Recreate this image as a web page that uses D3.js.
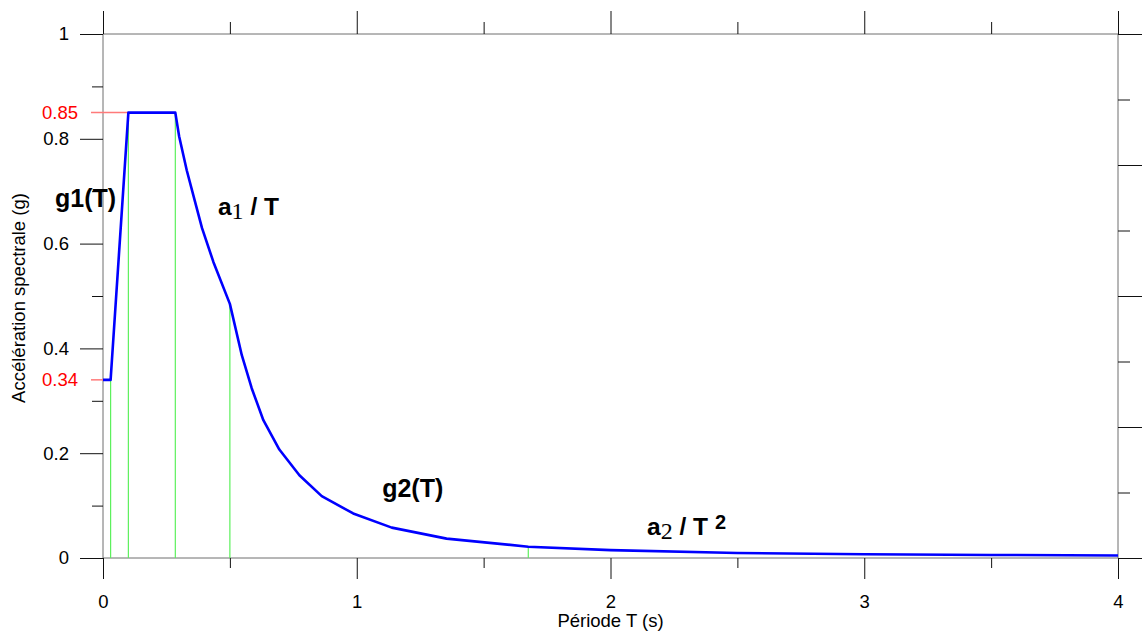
<!DOCTYPE html>
<html>
<head>
<meta charset="utf-8">
<script src="https://cdn.jsdelivr.net/npm/d3@7"></script>
<style>
  body { margin: 0; background: #fff; }
  svg { display: block; font-family: "Liberation Sans", Arial, sans-serif; }
</style>
</head>
<body>
<svg id="chart" width="1145" height="632"></svg>
<script>
// spectrum
var periods = [0, 0.03, 0.1, 0.285, 0.3, 0.33, 0.36, 0.39, 0.435, 0.5, 0.547, 0.586, 0.632, 0.695, 0.774, 0.862, 0.986, 1.138, 1.354, 1.676, 2.0, 2.5, 3.0, 3.5, 4.0];
var accel = [0.34, 0.34, 0.85, 0.85, 0.805, 0.74, 0.685, 0.63, 0.565, 0.485, 0.387, 0.324, 0.263, 0.207, 0.158, 0.118, 0.085, 0.058, 0.037, 0.0216, 0.015, 0.0095, 0.0072, 0.0058, 0.0048];

// green marker lines
var markerT = [0.03, 0.1, 0.285, 0.5, 1.676];
var markerV = [0.34, 0.85, 0.85, 0.485, 0.0216];

// red reference values on the y axis, with the period they run to
var refValues = [0.85, 0.34];
var refLabels = ["0.85", "0.34"];
var refUntil = [0.1, 0.03];

var xMajor = [0, 1, 2, 3, 4];
var xMinor = [0.5, 1.5, 2.5, 3.5];
var xLabels = ["0", "1", "2", "3", "4"];
var yMajor = [0, 0.2, 0.4, 0.6, 0.8, 1];
var yMinor = [0.1, 0.3, 0.5, 0.7, 0.9];
var yLabels = ["0", "0.2", "0.4", "0.6", "0.8", "1"];
var rMajor = [0, 1, 2, 3, 4];
var rMinor = [0.5, 1.5, 2.5, 3.5];

const svg = d3.select("#chart");
const plotLeft = 103, plotRight = 1118, plotTop = 34, plotBottom = 558;

var x = d3.scaleLinear().domain([0, 4]).range([plotLeft, plotRight]);
var y = d3.scaleLinear().domain([0, 1]).range([plotBottom, plotTop]);
var yR = d3.scaleLinear().domain([0, 4]).range([plotBottom, plotTop]);

var frame = "#6e6e6e";

// frame lines
svg.append("line").attr("x1", plotLeft).attr("x2", plotRight).attr("y1", plotTop).attr("y2", plotTop).attr("stroke", frame);
svg.append("line").attr("x1", plotLeft).attr("x2", plotRight).attr("y1", plotBottom).attr("y2", plotBottom).attr("stroke", frame);
svg.append("line").attr("x1", plotLeft).attr("x2", plotLeft).attr("y1", plotTop).attr("y2", plotBottom).attr("stroke", frame);
svg.append("line").attr("x1", plotRight).attr("x2", plotRight).attr("y1", plotTop).attr("y2", plotBottom).attr("stroke", frame);

// bottom axis
var bAxis = svg.append("g").attr("transform", "translate(0," + plotBottom + ")");
bAxis.call(d3.axisBottom(x).tickValues(xMajor).tickSize(21).tickFormat((d, i) => xLabels[i]).tickPadding(16));
bAxis.append("g").call(d3.axisBottom(x).tickValues(xMinor).tickSize(10).tickFormat(""));

// top axis
var tAxis = svg.append("g").attr("transform", "translate(0," + plotTop + ")");
tAxis.call(d3.axisTop(x).tickValues(xMajor).tickSize(23).tickFormat(""));
tAxis.append("g").call(d3.axisTop(x).tickValues(xMinor).tickSize(12).tickFormat(""));

// left axis
var lAxis = svg.append("g").attr("transform", "translate(" + plotLeft + ",0)");
lAxis.call(d3.axisLeft(y).tickValues(yMajor).tickSize(23).tickFormat((d, i) => yLabels[i]).tickPadding(11));
lAxis.append("g").call(d3.axisLeft(y).tickValues(yMinor).tickSize(11).tickFormat(""));

// right axis, own scale
var rAxis = svg.append("g").attr("transform", "translate(" + plotRight + ",0)");
rAxis.call(d3.axisRight(yR).tickValues(rMajor).tickSize(24).tickFormat(""));
rAxis.append("g").call(d3.axisRight(yR).tickValues(rMinor).tickSize(12).tickFormat(""));

svg.selectAll(".domain").remove();
svg.selectAll(".tick line").attr("stroke", "#111");
svg.selectAll(".tick text").attr("font-size", 18.5).attr("fill", "#000").attr("font-family", "Liberation Sans, Arial, sans-serif");

// red reference lines + labels
for (var i = 0; i < refValues.length; i++) {
  svg.append("line")
      .attr("x1", 91).attr("x2", x(refUntil[i]))
      .attr("y1", y(refValues[i])).attr("y2", y(refValues[i]))
      .attr("stroke", "#ff7a7a").attr("stroke-width", 1.5);
  svg.append("text")
      .attr("x", 78).attr("y", y(refValues[i]))
      .attr("dy", "0.35em")
      .attr("text-anchor", "end")
      .attr("font-size", 18.5)
      .attr("fill", "#ff0000")
      .text(refLabels[i]);
}

// green markers
for (var j = 0; j < markerT.length; j++) {
  svg.append("line")
      .attr("x1", x(markerT[j])).attr("x2", x(markerT[j]))
      .attr("y1", y(0)).attr("y2", y(markerV[j]))
      .attr("stroke", "#5cf05c").attr("stroke-width", 1.2);
}

// spectrum curve
var pts = periods.map((t, k) => [t, accel[k]]);
var line = d3.line().x(d => x(d[0])).y(d => y(d[1]));
svg.append("path")
    .datum(pts)
    .attr("d", line)
    .attr("fill", "none")
    .attr("stroke", "#0000ff")
    .attr("stroke-width", 2.6)
    .attr("stroke-linejoin", "round");

// annotations
svg.append("text").attr("x", x(-0.189)).attr("y", y(0.67))
    .attr("font-size", 25).attr("font-weight", "bold").text("g1(T)");
svg.append("text").attr("x", x(1.10)).attr("y", y(0.116))
    .attr("font-size", 25).attr("font-weight", "bold").text("g2(T)");

var a1 = svg.append("text").attr("x", x(0.453)).attr("y", y(0.655)).attr("font-size", 24.5);
a1.append("tspan").attr("font-weight", "bold").text("a");
a1.append("tspan").attr("font-family", "Liberation Serif, Times New Roman, serif").attr("font-size", 24).attr("dy", 4).text("1");
a1.append("tspan").attr("font-weight", "bold").attr("dy", -4).text(" / T");

var a2 = svg.append("text").attr("x", x(2.144)).attr("y", y(0.044)).attr("font-size", 24.5);
a2.append("tspan").attr("font-weight", "bold").text("a");
a2.append("tspan").attr("font-family", "Liberation Serif, Times New Roman, serif").attr("font-size", 24).attr("dy", 4).text("2");
a2.append("tspan").attr("font-weight", "bold").attr("dy", -4).text(" / T ");
a2.append("tspan").attr("font-weight", "bold").attr("font-size", 20).attr("dy", -6).text("2");

// axis titles
svg.append("text")
    .attr("x", (plotLeft + plotRight) / 2).attr("y", 627)
    .attr("text-anchor", "middle")
    .attr("font-size", 18.5)
    .text("Période T (s)");
svg.append("text")
    .attr("transform", "translate(25," + ((plotTop + plotBottom) / 2 + 2) + ") rotate(-90)")
    .attr("text-anchor", "middle")
    .attr("font-size", 18.5)
    .text("Accélération spectrale (g)");
</script>
</body>
</html>
